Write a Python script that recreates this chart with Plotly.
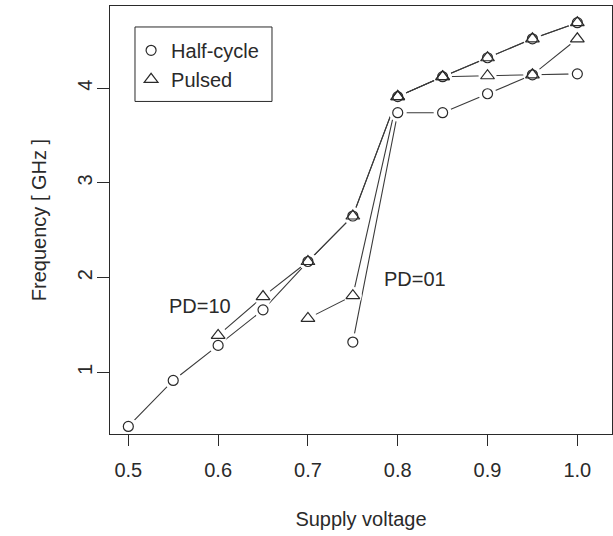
import plotly.graph_objects as go

# ---- data ----
v_hc10 = [0.5, 0.55, 0.6, 0.65, 0.7, 0.75, 0.8, 0.85, 0.9, 0.95, 1.0]
f_hc10 = [0.43, 0.915, 1.285, 1.66, 2.17, 2.65, 3.91, 4.12, 4.32, 4.52, 4.69]

v_pu10 = [0.6, 0.65, 0.7, 0.75, 0.8, 0.85, 0.9, 0.95, 1.0]
f_pu10 = [1.39, 1.80, 2.17, 2.65, 3.91, 4.12, 4.32, 4.52, 4.69]

v_hc01 = [0.75, 0.8, 0.85, 0.9, 0.95, 1.0]
f_hc01 = [1.32, 3.74, 3.74, 3.94, 4.14, 4.15]

v_pu01 = [0.7, 0.75, 0.8, 0.85, 0.9, 0.95, 1.0]
f_pu01 = [1.57, 1.81, 3.91, 4.12, 4.13, 4.14, 4.52]

x_ticks = [0.5, 0.6, 0.7, 0.8, 0.9, 1.0]
y_ticks = [1, 2, 3, 4]

INK = "#2a2a2a"
LINE = "#3a3a3a"
FONT = "Liberation Sans, Arial, Helvetica, sans-serif"
FS = 20

series = [
    (v_hc10, f_hc10, "circle"),
    (v_pu10, f_pu10, "triangle-up"),
    (v_hc01, f_hc01, "circle"),
    (v_pu01, f_pu01, "triangle-up"),
]
CIRC = 10
TRI = 12

fig = go.Figure()

# connecting lines
for xs, ys, sym in series:
    fig.add_trace(go.Scatter(x=xs, y=ys, mode="lines", showlegend=False,
                             line=dict(color=LINE, width=1.1), hoverinfo="skip"))
# white masks to emulate R type="b" gaps
for xs, ys, sym in series:
    fig.add_trace(go.Scatter(x=xs, y=ys, mode="markers", showlegend=False,
                             marker=dict(symbol="circle", size=18, color="white",
                                         line=dict(width=0)), hoverinfo="skip"))
# open markers
for xs, ys, sym in series:
    size = CIRC if sym == "circle" else TRI
    fig.add_trace(go.Scatter(x=xs, y=ys, mode="markers", showlegend=False,
                             marker=dict(symbol=sym + "-open", size=size, color=INK,
                                         line=dict(width=1.2, color=INK))))

# legend entries
fig.add_trace(go.Scatter(x=[None], y=[None], mode="markers", name="Half-cycle",
                         legendgroup="a",
                         marker=dict(symbol="circle-open", size=CIRC, color=INK,
                                     line=dict(width=1.2, color=INK))))
fig.add_trace(go.Scatter(x=[None], y=[None], mode="markers", name="Pulsed",
                         legendgroup="b",
                         marker=dict(symbol="triangle-up-open", size=TRI, color=INK,
                                     line=dict(width=1.2, color=INK))))

fig.add_annotation(x=0.58, y=1.70, text="PD=10", showarrow=False,
                   font=dict(size=FS, color=INK, family=FONT))
fig.add_annotation(x=0.819, y=1.99, text="PD=01", showarrow=False,
                   font=dict(size=FS, color=INK, family=FONT))

# legend box
fig.add_shape(type="rect", xref="paper", yref="paper",
              x0=0.0498, x1=0.3227, y0=0.777, y1=0.951,
              line=dict(color=INK, width=1), fillcolor="rgba(0,0,0,0)")

fig.update_layout(
    width=613, height=536,
    margin=dict(l=110, r=1, t=6, b=102),
    paper_bgcolor="white", plot_bgcolor="white",
    font=dict(family=FONT, size=FS, color=INK),
    legend=dict(x=0.042, y=0.942, xanchor="left", yanchor="top",
                bgcolor="rgba(0,0,0,0)", borderwidth=0,
                font=dict(size=FS, color=INK, family=FONT),
                tracegroupgap=0, traceorder="grouped"),
    xaxis=dict(range=[0.4796, 1.0386], tickvals=x_ticks, tickformat=".1f",
               showgrid=False, zeroline=False, showline=True, mirror=True,
               linecolor=INK, linewidth=1, ticks="outside", ticklen=11,
               tickcolor=INK, tickwidth=1, ticklabelstandoff=7,
               title=dict(text="Supply voltage", standoff=31,
                          font=dict(size=FS, color=INK, family=FONT)),
               tickfont=dict(size=FS, color=INK, family=FONT)),
    yaxis=dict(range=[0.350, 4.866], tickvals=y_ticks,
               showgrid=False, zeroline=False, showline=True, mirror=True,
               linecolor=INK, linewidth=1, ticks="outside", ticklen=12,
               tickcolor=INK, tickwidth=1, tickangle=-90, ticklabelstandoff=-3,
               title=dict(text="Frequency [ GHz ]", standoff=22,
                          font=dict(size=FS, color=INK, family=FONT)),
               tickfont=dict(size=FS, color=INK, family=FONT)),
)

fig.write_html("out.html")
